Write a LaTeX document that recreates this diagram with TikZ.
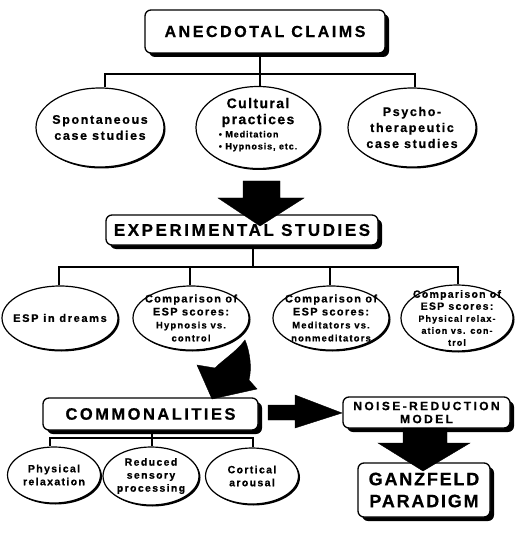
\documentclass[tikz,border=0pt]{standalone}
\usepackage{fontspec}
\setmainfont{Liberation Sans}[BoldFeatures={FakeBold=0.6}]
\usetikzlibrary{shapes.geometric,shadows}
\newcommand\fs[2]{\fontsize{#1}{#2}\selectfont}
\newcommand\ls[1]{\addfontfeature{LetterSpace=#1}}

\tikzset{
  box/.style={draw, line width=1.3pt, rounded corners=6pt, fill=white,
    drop shadow={shadow xshift=4pt, shadow yshift=-4pt, opacity=1, fill=black},
    align=center, inner sep=0pt},
  oval/.style={ellipse, draw, line width=1.2pt, fill=white, inner sep=0pt,
    drop shadow={shadow xshift=1.5pt, shadow yshift=-1.5pt, opacity=1, fill=black}},
  otext/.style={align=center, inner sep=0pt},
  link/.style={line width=1.3pt},
  bigarrow/.style={fill=black}
}

\begin{document}
\begin{tikzpicture}[x=1pt, y=-1pt]
  \useasboundingbox (0,0) rectangle (514,534);
  %%%%% ANECDOTAL CLAIMS %%%%%
  \node[box, minimum width=240pt, minimum height=43pt, font=\bfseries\fs{16}{18}\ls{16}] (anec) at (265,31.5) {ANECDOTAL CLAIMS};

  \node[oval, minimum width=128pt, minimum height=79pt,
    label={[otext, font=\bfseries\fs{12.5}{16}\ls{13}]center:{Spontaneous\\case studies}}] (spont) at (100,127.5) {};
  \node[oval, minimum width=124pt, minimum height=82pt,
    label={[otext, yshift=2pt, font=\bfseries\fs{14}{16}\ls{10}]center:{Cultural\\practices\\[1pt]{\fs{9}{12}\ls{10}\begin{tabular}{@{}l@{}}\textbullet\ Meditation\\\textbullet\ Hypnosis, etc.\end{tabular}}}}] (cult) at (258,127.5) {};
  \node[oval, minimum width=128pt, minimum height=79pt,
    label={[otext, font=\bfseries\fs{12.5}{16}\ls{13}]center:{Psycho-\\therapeutic\\case studies}}] (psy) at (412,127.5) {};

  \coordinate (b1) at (260,74);
  \coordinate (b1l) at (105,74);
  \coordinate (b1r) at (415,74);
  \draw[link] (anec.south -| b1) -- (b1) -- (b1 |- cult.north);
  \draw[link] (b1l |- spont.north) -- (b1l) -- (b1r) -- (b1r |- psy.north);

  %%%%% EXPERIMENTAL STUDIES %%%%%
  \node[box, minimum width=272pt, minimum height=30pt, font=\bfseries\fs{17}{18}\ls{15}] (exper) at (242,230) {EXPERIMENTAL STUDIES};
  \draw[bigarrow] (243,181) -- (280,181) -- (280,198) -- (304,198) -- (260,226) -- (218,198) -- (243,198) -- cycle;

  \node[oval, minimum width=116pt, minimum height=64pt,
    label={[otext, font=\bfseries\fs{11}{13}\ls{15}]center:{ESP in dreams}}] (dreams) at (60,318) {};
  \node[oval, minimum width=116pt, minimum height=64pt,
    label={[otext, font=\bfseries\fs{11}{13}\ls{12}]center:{Comparison of\\ESP scores:\\{\fs{9.5}{11.5}\ls{12}Hypnosis vs.}\\{\fs{9.5}{11.5}\ls{12}control}}}] (hyp) at (191,318) {};
  \node[oval, minimum width=116pt, minimum height=64pt,
    label={[otext, font=\bfseries\fs{11}{13}\ls{12}]center:{Comparison of\\ESP scores:\\{\fs{9.5}{11.5}\ls{12}Meditators vs.}\\{\fs{9.5}{11.5}\ls{12}nonmeditators}}}] (med) at (331,318) {};
  \node[oval, minimum width=112pt, minimum height=66pt,
    label={[otext, font=\bfseries\fs{10.5}{12}\ls{12}]center:{Comparison of\\ESP scores:\\{\fs{9}{10.5}\ls{12}Physical relax-}\\{\fs{9}{10.5}\ls{12}ation vs. con-}\\{\fs{9}{10.5}\ls{12}trol}}}] (relax) at (457,318) {};

  \coordinate (b2) at (253,267);
  \coordinate (b2a) at (59,267);
  \coordinate (b2b) at (190,267);
  \coordinate (b2c) at (330,267);
  \coordinate (b2d) at (458,267);
  \draw[link] (exper.south -| b2) -- (b2);
  \draw[link] (b2a |- dreams.north) -- (b2a) -- (b2d) -- (b2d |- relax.north);
  \draw[link] (b2b) -- (b2b |- hyp.north);
  \draw[link] (b2c) -- (b2c |- med.north);

  %%%%% COMMONALITIES %%%%%
  \node[box, minimum width=215pt, minimum height=32pt, font=\bfseries\fs{16.5}{18}\ls{15}] (common) at (150.5,414) {COMMONALITIES};
  \draw[bigarrow] (245,340) .. controls (250,352) and (252,368) .. (249,380) -- (257,389)
    -- (212,399) -- (197,365) -- (215,368) .. controls (224,359) and (236,352) .. (245,340) -- cycle;

  \node[oval, minimum width=93pt, minimum height=56pt,
    label={[otext, font=\bfseries\fs{10.5}{13}\ls{13}]center:{Physical\\relaxation}}] (phys) at (54,475) {};
  \node[oval, minimum width=96pt, minimum height=58pt,
    label={[otext, font=\bfseries\fs{10.5}{13}\ls{13}]center:{Reduced\\sensory\\processing}}] (sens) at (151,476) {};
  \node[oval, minimum width=93pt, minimum height=56pt,
    label={[otext, font=\bfseries\fs{10.5}{13}\ls{13}]center:{Cortical\\arousal}}] (cort) at (252,476) {};

  \coordinate (b3) at (152,438);
  \coordinate (b3l) at (50,438);
  \coordinate (b3r) at (253,438);
  \draw[link] (common.south -| b3) -- (b3) -- (b3 |- sens.north);
  \draw[link] (b3l |- phys.north) -- (b3l) -- (b3r) -- (b3r |- cort.north);

  %%%%% MODEL %%%%%
  \node[box, minimum width=167pt, minimum height=31pt, font=\bfseries\fs{12}{13}\ls{20}] (noise) at (426.5,412.5) {NOISE-REDUCTION\\MODEL};
  \draw[bigarrow] (268,405) -- (295,405) -- (295,395) -- (342,413) -- (295,428) -- (295,420) -- (268,420) -- cycle;

  \node[box, minimum width=132pt, minimum height=54pt, font=\bfseries\fs{18}{22}\ls{10}] (ganz) at (424,490) {GANZFELD\\PARADIGM};
  \draw[bigarrow] (403,428) -- (447,428) -- (447,443) -- (470,443) -- (423,471) -- (378,443) -- (403,443) -- cycle;
\end{tikzpicture}
\end{document}
